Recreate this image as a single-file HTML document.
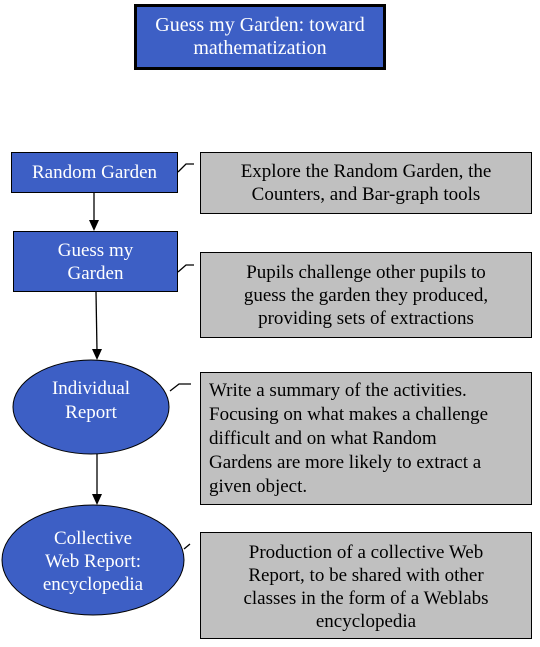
<!DOCTYPE html>
<html><head><style>
body{margin:0;width:540px;height:647px;background:#fff;position:relative;overflow:hidden;font-family:"Liberation Serif","Times New Roman",Times,serif;}
.b{position:absolute;box-sizing:border-box;display:flex;align-items:center;justify-content:center;text-align:center;font-size:19px;line-height:23px;}
.blue{background:#3d5fc5;color:#fff;border:1px solid #000;}
.gray{background:#c0c0c0;color:#000;border:1px solid #000;}
svg text{font-family:"Liberation Serif","Times New Roman",Times,serif;}
</style></head><body>
<div class="b blue" style="left:134px;top:4px;width:252px;height:66px;border:3px solid #000;font-size:20px;">Guess my Garden: toward<br>mathematization</div>
<div class="b blue" style="left:11px;top:152px;width:167px;height:41px;">Random Garden</div>
<div class="b blue" style="left:13px;top:231px;width:165px;height:61px;">Guess my<br>Garden</div>
<svg width="540" height="647" style="position:absolute;left:0;top:0">
<ellipse cx="91" cy="407" rx="78" ry="47" fill="#3d5fc5" stroke="#000"/>
<ellipse cx="93" cy="560" rx="91" ry="55" fill="#3d5fc5" stroke="#000"/>
<g stroke="#000" stroke-width="1.3" fill="none">
<line x1="94" y1="193" x2="94" y2="222"/>
<line x1="96" y1="292" x2="97" y2="351"/>
<line x1="97" y1="454" x2="97" y2="496"/>
<polyline points="178,172 186,164 194,164"/>
<polyline points="178,272 186,265 194,265"/>
<polyline points="170,391 179,384 191,384"/>
<polyline points="184,549 190,544"/>
</g>
<g fill="#000">
<polygon points="89,220 99,220 94,231"/>
<polygon points="92,349 102,349 97,360"/>
<polygon points="92,494 102,494 97,505"/>
</g>
<text x="91" y="394" fill="#fff" font-size="19" text-anchor="middle">Individual</text>
<text x="91" y="418" fill="#fff" font-size="19" text-anchor="middle">Report</text>
<text x="93" y="544" fill="#fff" font-size="19" text-anchor="middle">Collective</text>
<text x="93" y="567" fill="#fff" font-size="19" text-anchor="middle">Web Report:</text>
<text x="93" y="590" fill="#fff" font-size="19" text-anchor="middle">encyclopedia</text>
</svg>
<div class="b gray" style="left:200px;top:152px;width:332px;height:62px;">Explore the Random Garden, the<br>Counters, and Bar-graph tools</div>
<div class="b gray" style="left:200px;top:252px;width:332px;height:86px;">Pupils challenge other pupils to<br>guess the garden they produced,<br>providing sets of extractions</div>
<div class="b gray" style="left:200px;top:372px;width:332px;height:133px;text-align:left;justify-content:flex-start;padding-left:8px;line-height:24px;">Write a summary of the activities.<br>Focusing on what makes a challenge<br>difficult and on what Random<br>Gardens are more likely to extract a<br>given object.</div>
<div class="b gray" style="left:200px;top:532px;width:332px;height:107px;align-items:flex-start;padding-top:8px;">Production of a collective Web<br>Report, to be shared with other<br>classes in the form of a Weblabs<br>encyclopedia</div>
</body></html>
